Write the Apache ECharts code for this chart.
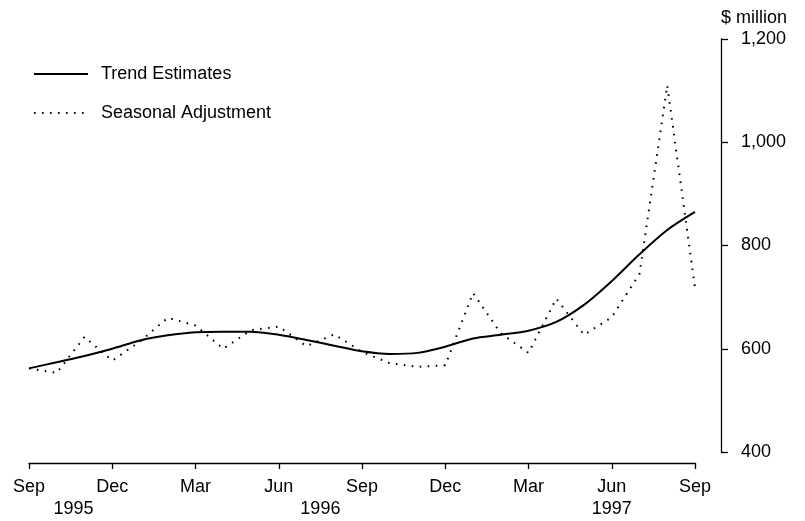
<!DOCTYPE html>
<html>
<head>
<meta charset="utf-8">
<script src="https://cdn.jsdelivr.net/npm/echarts@6/dist/echarts.min.js"></script>
<style>
  html, body { margin: 0; padding: 0; background: #fff; }
  #chart { width: 805px; height: 521px; }
</style>
</head>
<body>
<div id="chart"></div>
<script>
// monthly, Sep 1995 .. Sep 1997
const months = [
  "Sep 1995", "Oct 1995", "Nov 1995", "Dec 1995", "Jan 1996", "Feb 1996", "Mar 1996",
  "Apr 1996", "May 1996", "Jun 1996", "Jul 1996", "Aug 1996", "Sep 1996", "Oct 1996",
  "Nov 1996", "Dec 1996", "Jan 1997", "Feb 1997", "Mar 1997", "Apr 1997", "May 1997",
  "Jun 1997", "Jul 1997", "Aug 1997", "Sep 1997"
];
const trendEstimates = [
  562, 574, 586, 600, 616, 626, 632, 633, 633, 627, 617, 606, 595,
  590, 592, 604, 620, 627, 635, 652, 685, 731, 783, 830, 865
];
const seasonalAdjustment = [
  562, 553, 623, 577, 614, 660, 645, 600, 636, 643, 605, 628, 594,
  572, 565, 568, 708, 630, 592, 697, 627, 661, 745, 1110, 718
];
const yTicks = [400, 600, 800, 1000, 1200];
const yearLabels = ["1995", "1996", "1997"];
const yearAt = [1.6, 10.5, 21]; // month offset from Sep 1995

const font = "Liberation Sans";
const chart = echarts.init(document.getElementById("chart"));

chart.setOption({
  animation: false,
  backgroundColor: "#fff",
  textStyle: { fontFamily: font, color: "#000" },
  grid: {
    left: 29,
    right: 110,
    top: 39,
    bottom: 69,
    outerBoundsMode: "none",
  },
  legend: {
    orient: "vertical",
    left: 28,
    top: 60,
    itemWidth: 54,
    itemHeight: 18,
    itemGap: 21,
    itemStyle: { opacity: 0 }, // line only, no marker
    textStyle: { fontFamily: font, fontSize: 18, color: "#000", padding: [0, 0, 0, 8] },
    data: ["Trend Estimates", "Seasonal Adjustment"],
  },
  xAxis: [
    {
      type: "category",
      data: months,
      boundaryGap: false,
      position: "bottom",
      offset: 11,
      axisLine: { onZero: false, lineStyle: { color: "#000", width: 1.3 } },
      axisTick: { interval: 2, length: 6, lineStyle: { color: "#000", width: 1.3 } },
      axisLabel: {
        interval: 2,
        margin: 15,
        fontFamily: font,
        fontSize: 18,
        color: "#000",
        formatter: (v) => v.split(" ")[0],
      },
      splitLine: { show: false },
    },
    {
      // year row under the month labels
      type: "value",
      min: 0,
      max: months.length - 1,
      position: "bottom",
      offset: 11,
      axisLine: { show: false, onZero: false },
      axisTick: { show: false },
      splitLine: { show: false },
      axisLabel: {
        customValues: yearAt,
        margin: 37,
        fontFamily: font,
        fontSize: 18,
        color: "#000",
        formatter: (v) => yearLabels[yearAt.indexOf(v)] || "",
      },
    },
  ],
  yAxis: {
    type: "value",
    position: "right",
    offset: 26,
    min: yTicks[0],
    max: yTicks[yTicks.length - 1],
    interval: 200,
    name: "$ million",
    nameLocation: "end",
    nameGap: 12,
    nameTextStyle: { fontFamily: font, fontSize: 18, color: "#000", align: "left" },
    axisLine: { show: true, onZero: false, lineStyle: { color: "#000", width: 1.3 } },
    axisTick: { show: true, length: 7, lineStyle: { color: "#000", width: 1.3 } },
    axisLabel: {
      margin: 20,
      fontFamily: font,
      fontSize: 18,
      color: "#000",
      formatter: (v) => v.toLocaleString("en-US"),
    },
    splitLine: { show: false },
  },
  series: [
    {
      name: "Trend Estimates",
      type: "line",
      data: trendEstimates,
      smooth: 0.3,
      symbol: "none",
      lineStyle: { color: "#000", width: 2 },
      itemStyle: { color: "#000" },
    },
    {
      name: "Seasonal Adjustment",
      type: "line",
      data: seasonalAdjustment,
      symbol: "none",
      lineStyle: { color: "#000", width: 2, type: [1.6, 6.4] },
      itemStyle: { color: "#000" },
    },
  ],
});
</script>
</body>
</html>
